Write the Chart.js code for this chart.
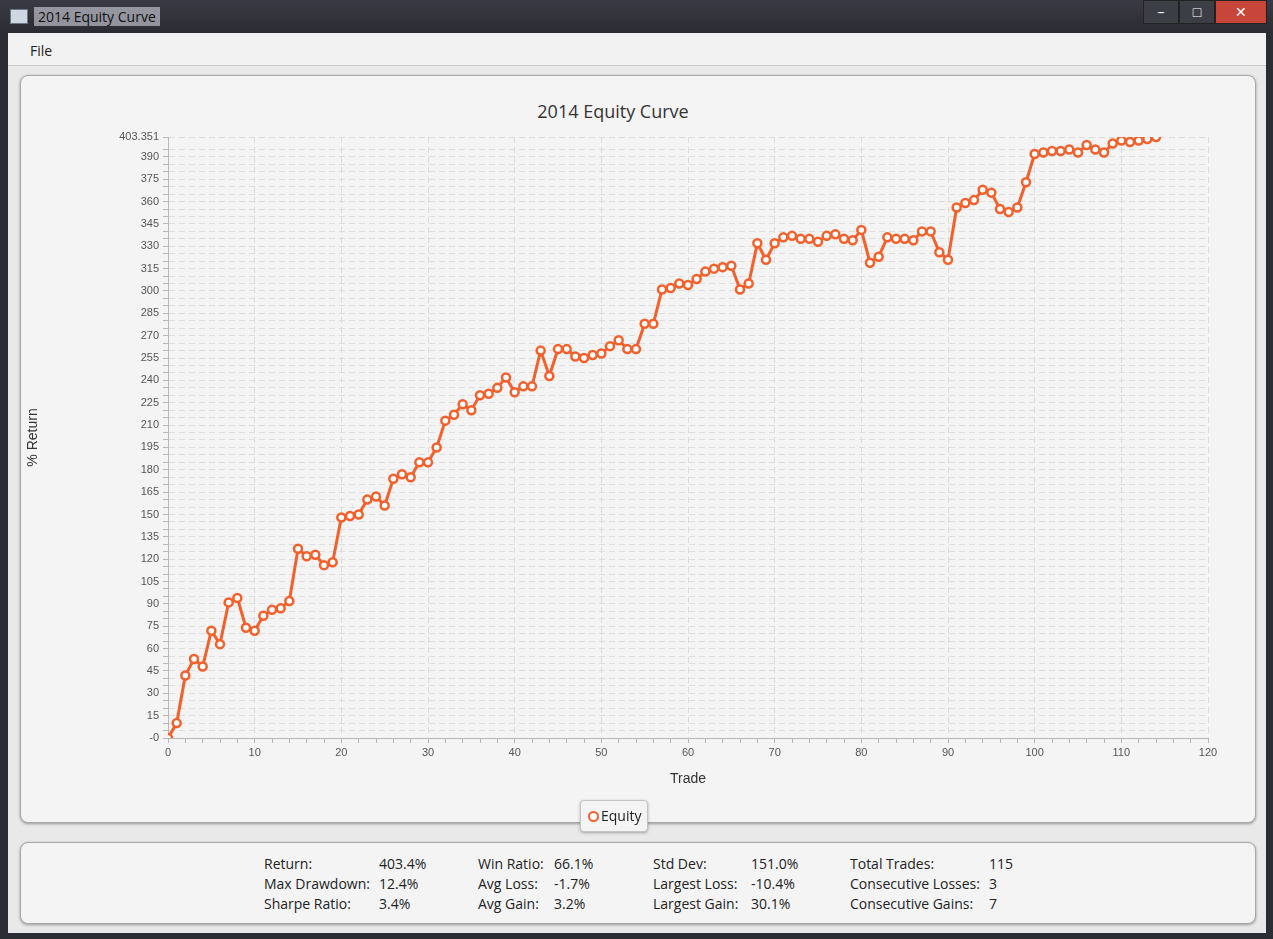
<!DOCTYPE html>
<html>
<head>
<meta charset="utf-8">
<script src="https://cdn.jsdelivr.net/npm/chart.js@4/dist/chart.umd.min.js"></script>
<style>
  body { margin: 0; width: 1273px; height: 939px; overflow: hidden; background: #2a2d33; font-family: "Open Sans", "Noto Sans", sans-serif; }
  .titlebar { position: absolute; left: 0; top: 0; width: 1273px; height: 33px; background: linear-gradient(#3a3a44, #2b2b33); color: #000; }
  .titlebar .t { position: absolute; left: 34px; top: 7px; font-size: 14px; color: #111; background: rgba(230,230,240,0.55); padding: 0 4px; }
  .titlebar .ic { position: absolute; left: 10px; top: 9px; width: 16px; height: 13px; background: #cfd8e0; border: 1px solid #6a7a8a; }
  .btns { position: absolute; right: 6px; top: 0; height: 22px; display: flex; }
  .btns div { width: 34px; height: 22px; color: #fff; font-size: 14px; text-align: center; line-height: 22px; background: #3c3e46; border: 1px solid #222; }
  .btns .x { width: 50px; background: #c8453a; }
  .win { position: absolute; left: 8px; top: 33px; width: 1258px; height: 900px; background: #e9e9e9; }
  .menu { position: absolute; left: 0; top: 0; width: 1258px; height: 32px; background: #f2f2f2; border-bottom: 1px solid #c8c8c8; }
  .menu span { position: absolute; left: 22px; top: 8px; font-size: 14px; color: #222; }
  .panel { position: absolute; background: #f4f4f4; border: 1px solid #a8a8a8; border-radius: 8px; box-shadow: 0 1px 3px rgba(0,0,0,0.35); }
  .ctitle { position: absolute; left: 0; width: 1184px; top: 23px; text-align: center; font-size: 18px; color: #333; }
  .legend { position: absolute; left: 559px; top: 724px; width: 66px; height: 30px; background: #f4f4f4; border: 1px solid #c4c4c4; border-radius: 4px; box-shadow: 0 1px 3px rgba(0,0,0,0.3); font-size: 14px; color: #222; }
  .legend i { position: absolute; left: 7px; top: 10px; width: 7px; height: 7px; border: 2px solid #f4602b; border-radius: 50%; background: #fff; }
  .legend span { position: absolute; left: 20px; top: 5px; }
  .stat { position: absolute; font-size: 14px; color: #222; white-space: nowrap; }
</style>
</head>
<body>
<div class="titlebar"><div class="ic"></div><div class="t">2014 Equity Curve</div>
  <div class="btns"><div>&#8211;</div><div>&#9633;</div><div class="x">&#10005;</div></div></div>
<div class="win">
  <div class="menu"><span>File</span></div>
  <div class="panel" style="left:12px; top:42px; width:1234px; height:746px;">
    <div class="ctitle">2014 Equity Curve</div>
    <canvas id="c" style="position:absolute; left:0; top:0;"></canvas>
    <div class="legend"><i></i><span>Equity</span></div>
  </div>
  <div class="panel" id="stats" style="left:12px; top:809px; width:1234px; height:80px;"></div>
</div>
<script>
const trades = [];
for (let i = 0; i <= 114; i++) trades.push(i);
const equity = [0, 10, 42, 53, 48, 72, 63, 91, 94, 74,
  72, 82, 86, 87, 92, 127, 122, 123, 116, 118,
  148, 149, 150, 160, 162, 156, 174, 177, 175, 185,
  185, 195, 213, 217, 224, 220, 230, 231, 235, 242,
  232, 236, 236, 260, 243, 261, 261, 256, 255, 257,
  258, 263, 267, 261, 261, 278, 278, 301, 302, 305,
  304, 308, 313, 315, 316, 317, 301, 305, 332, 321,
  332, 336, 337, 335, 335, 333, 337, 338, 335, 334,
  341, 319, 323, 336, 335, 335, 334, 340, 340, 326,
  321, 356, 359, 361, 368, 366, 355, 353, 356, 373,
  392, 393, 394, 394, 395, 393, 398, 395, 393, 399,
  401, 400, 401, 402, 403.351];
const yMax = 403.351;
const statLabels = [
  ["Return:", "403.4%", "Win Ratio:", "66.1%", "Std Dev:", "151.0%", "Total Trades:", "115"],
  ["Max Drawdown:", "12.4%", "Avg Loss:", "-1.7%", "Largest Loss:", "-10.4%", "Consecutive Losses:", "3"],
  ["Sharpe Ratio:", "3.4%", "Avg Gain:", "3.2%", "Largest Gain:", "30.1%", "Consecutive Gains:", "7"]
];

const colX = [243, 358, 457, 533, 632, 730, 829, 968];
const stats = document.getElementById('stats');
statLabels.forEach((row, r) => {
  row.forEach((txt, c) => {
    const d = document.createElement('div');
    d.className = 'stat';
    d.style.left = colX[c] + 'px';
    d.style.top = (11 + r * 20) + 'px';
    d.textContent = txt;
    stats.appendChild(d);
  });
});

const cv = document.getElementById('c');
cv.width = 1234; cv.height = 746;
const orange = '#f4602b';
new Chart(cv.getContext('2d'), {
  type: 'line',
  data: {
    labels: trades,
    datasets: [{
      label: 'Equity',
      data: trades.map((t, i) => ({ x: t, y: equity[i] })),
      borderColor: orange,
      borderWidth: 3,
      backgroundColor: '#ffffff',
      pointBorderColor: orange,
      pointBackgroundColor: '#ffffff',
      pointRadius: 4,
      pointBorderWidth: 2.5,
      tension: 0
    }]
  },
  options: {
    responsive: false,
    animation: false,
    layout: { padding: { left: 0, right: 47, top: 61, bottom: 30 } },
    plugins: { legend: { display: false }, title: { display: false }, tooltip: { enabled: false } },
    scales: {
      x: {
        type: 'linear', min: 0, max: 120,
        afterFit: s => { s.height = 54; },
        afterBuildTicks: s => { const t = []; for (let v = 0; v <= 120; v += 2) t.push({ value: v }); s.ticks = t; },
        ticks: { autoSkip: false, maxRotation: 0, color: '#555', font: { size: 11 },
          callback: v => (v % 10 === 0 ? String(v) : '') },
        grid: { color: c => (c.tick && c.tick.value % 10 === 0 ? '#dcdcdc' : 'rgba(0,0,0,0)'),
          tickColor: '#b8b8b8', tickLength: 5 },
        border: { color: '#b8b8b8', dash: [6, 4] },
        title: { display: true, text: 'Trade', color: '#333', font: { size: 14 }, padding: { top: 8 } }
      },
      y: {
        type: 'linear', min: 0, max: yMax,
        afterFit: s => { s.width = 147; },
        afterBuildTicks: s => { const t = []; for (let v = 0; v < 400; v += 5) t.push({ value: v }); t.push({ value: yMax }); s.ticks = t; },
        ticks: { autoSkip: false, color: '#555', font: { size: 11 }, padding: 4,
          callback: v => (v === 0 ? '-0' : v === yMax ? '403.351' : (v % 15 === 0 ? String(v) : '')) },
        grid: { color: '#dedede', tickColor: '#b8b8b8', tickLength: 5 },
        border: { color: '#b8b8b8', dash: [6, 4] },
        title: { display: true, text: '% Return', color: '#333', font: { size: 14 }, padding: { bottom: 70 } }
      }
    }
  }
});
</script>
</body>
</html>
